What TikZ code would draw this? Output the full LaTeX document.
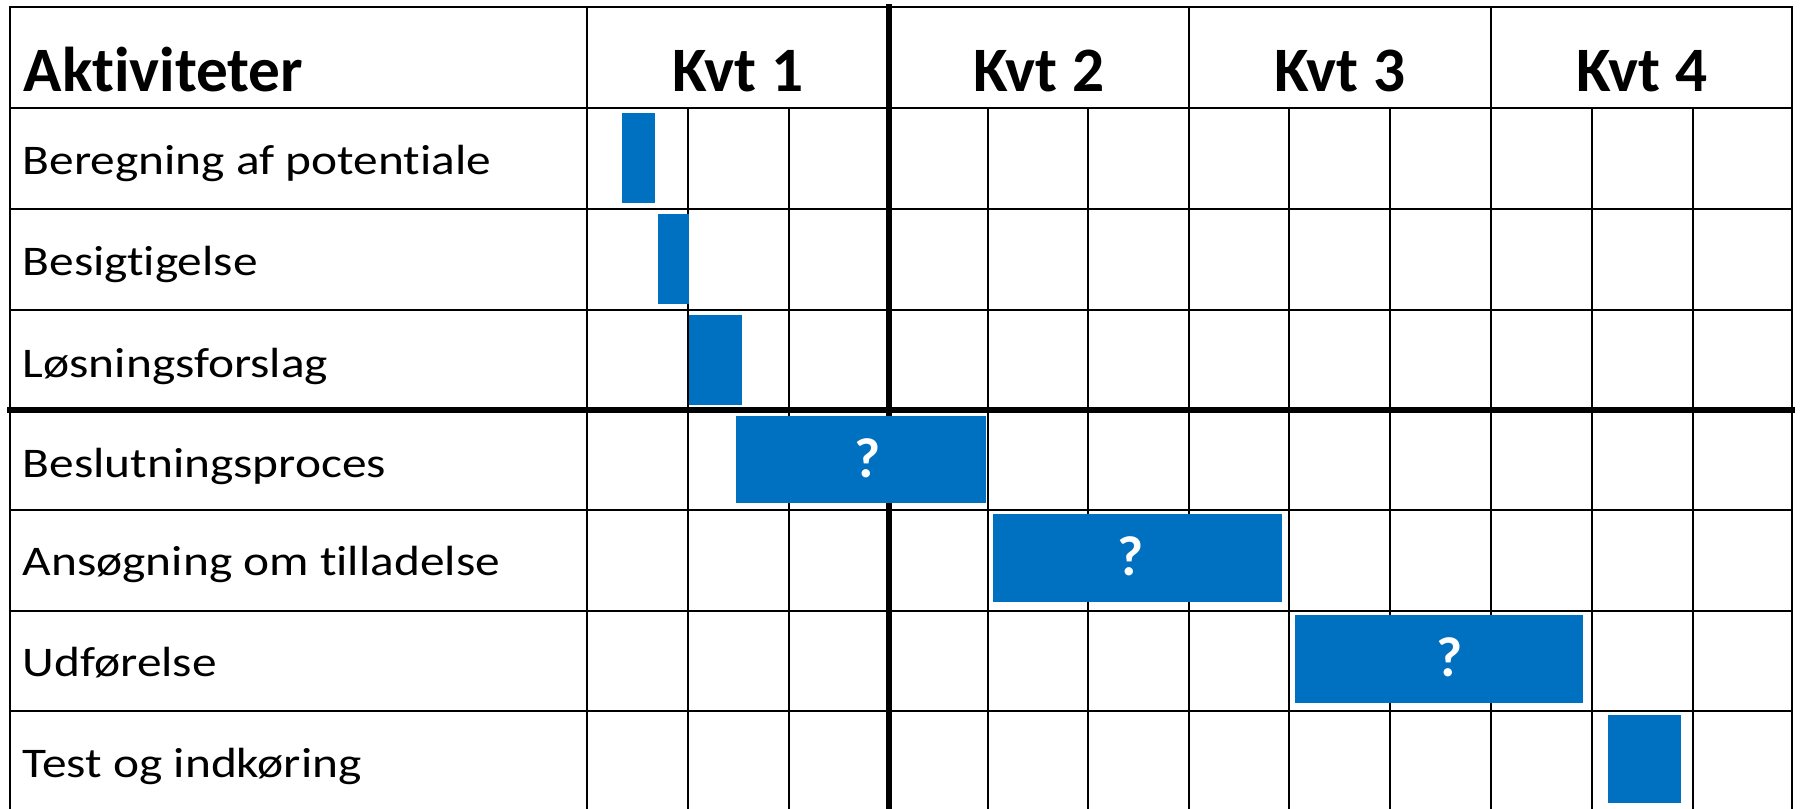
\documentclass[tikz,border=0pt]{standalone}
\usepackage{fontspec}
\setmainfont{Carlito}[RawFeature={-liga;-clig;-calt;-dlig}]
\newfontfamily\lblfont[FakeStretch=1.17,RawFeature={-liga;-clig;-calt;-dlig}]{Carlito}
\definecolor{barblue}{HTML}{0070C0}
\begin{document}
\begin{tikzpicture}[x=0.01cm,y=-0.01cm,
  thingrid/.style={line width=0.8pt, black, line cap=rect},
  thickgrid/.style={line width=1.6pt, black, line cap=rect},
  bar/.style={fill=barblue},
  hdr/.style={anchor=base, inner sep=0pt, font=\fontsize{18}{20}\selectfont\bfseries},
  lbl/.style={anchor=base west, inner sep=0pt, font=\lblfont\fontsize{12}{14}\selectfont},
  qm/.style={anchor=base, inner sep=0pt, text=white, font=\fontsize{16}{18}\selectfont\bfseries}]
\useasboundingbox (0,0) rectangle (1802,808);
% grid
\foreach \y in {7,108,209,310,510,611,711} \draw[thingrid] (10,\y) -- (1792,\y);
\draw[thickgrid] (10,410) -- (1792,410);
\foreach \x in {10,587,1189,1491,1792} \draw[thingrid] (\x,7) -- (\x,810);
\draw[thickgrid] (889,7) -- (889,810);
\foreach \x in {688,789,988,1088,1289,1390,1592,1693} \draw[thingrid] (\x,108) -- (\x,810);
% headers
\node[hdr,anchor=base west] (akt) at (23,91) {Aktiviteter};
\node[hdr] (q1) at (738,91) {Kvt 1};
\node[hdr] (q2) at (1039,91) {Kvt 2};
\node[hdr] (q3) at (1340,91) {Kvt 3};
\node[hdr] (q4) at (1642,91) {Kvt 4};
% labels
\node[lbl] (l1) at (22,174) {Beregning af potentiale};
\node[lbl] (l2) at (22,275) {Besigtigelse};
\node[lbl] (l3) at (22,377) {Løsningsforslag};
\node[lbl] (l4) at (22,477) {Beslutningsproces};
\node[lbl] (l5) at (22,575) {Ansøgning om tilladelse};
\node[lbl] (l6) at (22,676) {Udførelse};
\node[lbl] (l7) at (22,777) {Test og indkøring};
% bars
\fill[bar] (622,113) rectangle (655,203);
\fill[bar] (658,214) rectangle (689,304);
\fill[bar] (689,315) rectangle (742,405);
\fill[bar] (736,416) rectangle (986,503);
\fill[bar] (993,514) rectangle (1282,602);
\fill[bar] (1295,615) rectangle (1583,703);
\fill[bar] (1608,715) rectangle (1681,803);
% question marks
\node[qm] (qa) at (868,477) {?};
\node[qm] (qb) at (1131,575) {?};
\node[qm] (qc) at (1450,676) {?};
\end{tikzpicture}
\end{document}
